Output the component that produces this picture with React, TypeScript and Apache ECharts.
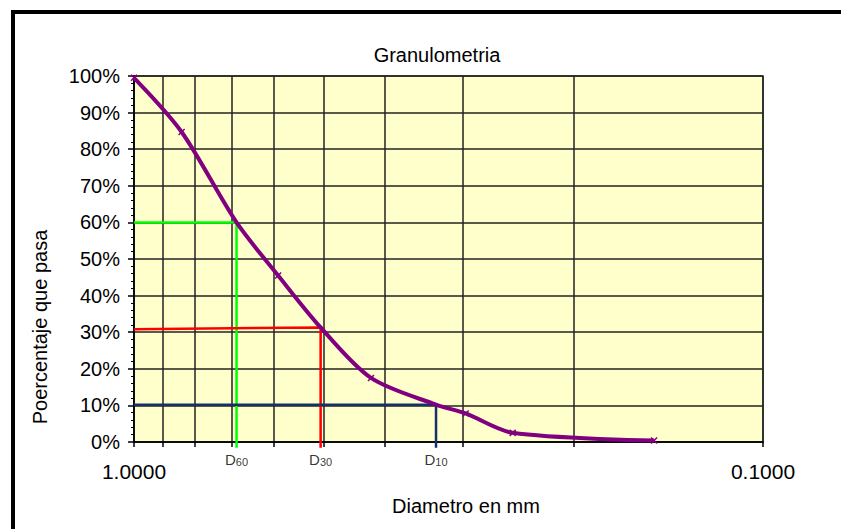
import React, { useEffect, useRef } from "react";
import * as echarts from "echarts";

// Grain-size curve (sieve opening in mm, percentage passing)
const diameters = [1.0, 0.84, 0.59, 0.42, 0.297, 0.25, 0.149];
const passing = [99.5, 84.7, 45.5, 17.5, 7.8, 2.5, 0.4];

// Log-axis grid positions and labels
const gridDiameters = [1, 0.9, 0.8, 0.7, 0.6, 0.5, 0.4, 0.3, 0.2, 0.1];
const xLabelDiameters = [1, 0.1];

// Characteristic diameters D60, D30, D10 (interpolated on the curve)
const refNames = ["60", "30", "10"];
const refDiameters = [0.687, 0.505, 0.331];
const refLevelStart = [60, 30.8, 10.2];
const refLevelEnd = [60, 31.3, 10.2];

const FONT = "'Liberation Sans', Arial, sans-serif";
const lg = (v: number) => Math.log10(v);

export default function App() {
  const ref = useRef<HTMLDivElement>(null);

  useEffect(() => {
    if (!ref.current) return;
    const chart = echarts.init(ref.current, null, { renderer: "svg" });

    const refColors = ["#00FF00", "#FF0000", "#16306A"];
    const refSeries = refDiameters.map((d, i) => ({
      type: "line",
      name: "D" + refNames[i],
      data: [
        [0, refLevelStart[i]],
        [lg(d), refLevelEnd[i]],
        [lg(d), -1.6],
      ],
      symbol: "none",
      clip: false,
      smooth: false,
      z: 4,
      lineStyle: { color: refColors[i], width: 2.5 },
    }));

    // curve: measured points (with markers) plus the interpolated D points (no marker)
    const curvePoints = [
      ...diameters.map((d, i) => ({ value: [lg(d), passing[i]] as number[] })),
      ...refDiameters.map((d, i) => ({ value: [lg(d), refLevelEnd[i]] as number[], symbol: "none" })),
    ].sort((a, b) => b.value[0] - a.value[0]);

    chart.setOption({
      animation: false,
      textStyle: { fontFamily: FONT },
      title: {
        text: "Granulometria",
        left: 432,
        textAlign: "center",
        top: 40,
        textStyle: { fontFamily: FONT, fontSize: 20, fontWeight: "normal", color: "#000" },
      },
      grid: {
        left: 134,
        right: 78,
        top: 76,
        bottom: 87,
        show: true,
        backgroundColor: "#FFFFCC",
        borderColor: "#333",
        borderWidth: 1.5,
      },
      xAxis: {
        type: "value",
        min: -1,
        max: 0,
        inverse: true,
        axisLine: { show: true, lineStyle: { color: "#000", width: 1.5 } },
        axisTick: {
          show: true,
          customValues: gridDiameters.map(lg),
          length: 5,
          lineStyle: { color: "#000", width: 1.5 },
        },
        axisLabel: {
          customValues: xLabelDiameters.map(lg),
          formatter: (v: number) => Math.pow(10, v).toFixed(4),
          fontFamily: FONT,
          fontSize: 21,
          color: "#000",
          margin: 19,
        },
        splitLine: { show: true, lineStyle: { color: "#222", width: 1.5 } },
      },
      yAxis: {
        type: "value",
        min: 0,
        max: 100,
        interval: 10,
        axisLine: { show: true, lineStyle: { color: "#000", width: 1.5 } },
        axisTick: { show: true, length: 6, lineStyle: { color: "#000", width: 1.5 } },
        minorTick: { show: true, splitNumber: 5, length: 3, lineStyle: { color: "#000", width: 1 } },
        axisLabel: {
          formatter: "{value}%",
          fontFamily: FONT,
          fontSize: 20,
          color: "#000",
          margin: 14,
        },
        splitLine: { show: true, lineStyle: { color: "#222", width: 1.5 } },
      },
      graphic: [
        {
          type: "rect",
          shape: { x: 13, y: 12, width: 860, height: 540 },
          style: { fill: "none", stroke: "#000", lineWidth: 4 },
          silent: true,
        },
        {
          type: "text",
          x: 40,
          y: 327,
          rotation: Math.PI / 2,
          style: {
            text: "Poercentaje que pasa",
            fontFamily: FONT,
            fontSize: 20,
            fill: "#000",
            align: "center",
            verticalAlign: "middle",
          },
        },
        {
          type: "text",
          x: 466,
          y: 506,
          style: {
            text: "Diametro en mm",
            fontFamily: FONT,
            fontSize: 20,
            fill: "#000",
            align: "center",
            verticalAlign: "middle",
          },
        },
      ],
      series: [
        ...refSeries,
        {
          type: "line",
          name: "Granulometria",
          data: curvePoints,
          smooth: 0.3,
          symbol: "path://M0 0L10 10M10 0L0 10",
          symbolSize: 6,
          itemStyle: { color: "#800080", borderColor: "#800080", borderWidth: 1.5 },
          lineStyle: { color: "#800080", width: 4 },
          z: 5,
        },
        {
          type: "scatter",
          name: "labels",
          data: refDiameters.map((d, i) => ({ value: [lg(d), 0], name: refNames[i] })),
          symbolSize: 1,
          clip: false,
          itemStyle: { color: "rgba(0,0,0,0)" },
          z: 6,
          label: {
            show: true,
            position: "bottom",
            distance: 8,
            formatter: (p: any) => `{d|D}{s|${p.name}}`,
            rich: {
              d: { fontFamily: FONT, fontSize: 15, color: "#000" },
              s: { fontFamily: FONT, fontSize: 11, color: "#000", padding: [6, 0, 0, 0] },
            },
          },
        },
      ],
    });

    return () => chart.dispose();
  }, []);

  return (
    <div
      ref={ref}
      style={{ position: "fixed", left: 0, top: 0, width: 841, height: 529, background: "#fff" }}
    />
  );
}
